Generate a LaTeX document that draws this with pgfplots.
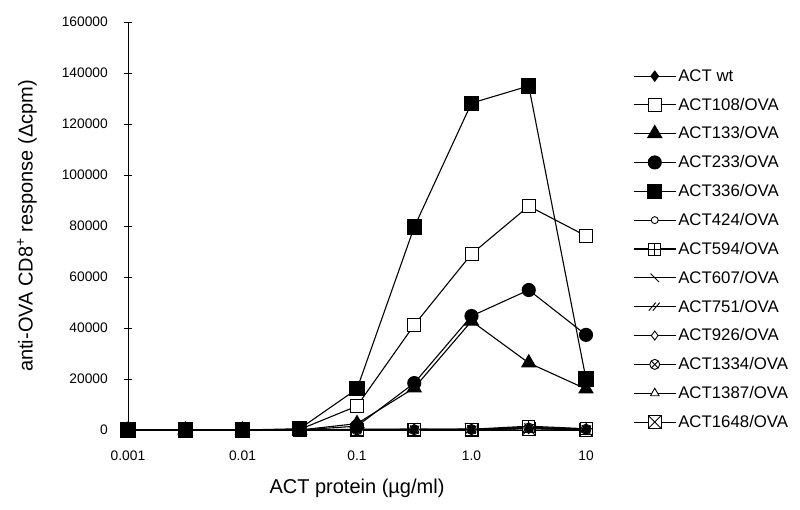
\documentclass[border=0pt]{standalone}
\usepackage{fontspec}
\setmainfont{Liberation Sans}
\usepackage{pgfplots}
\pgfplotsset{compat=1.18}
\usetikzlibrary{plotmarks}

\pgfdeclareplotmark{boxplus}{%
 \pgfpathrectangle{\pgfpoint{-\pgfplotmarksize}{-\pgfplotmarksize}}{\pgfpoint{2\pgfplotmarksize}{2\pgfplotmarksize}}%
 \pgfusepathqfillstroke
 \pgfpathmoveto{\pgfpoint{-\pgfplotmarksize}{0pt}}\pgfpathlineto{\pgfpoint{\pgfplotmarksize}{0pt}}%
 \pgfpathmoveto{\pgfpoint{0pt}{-\pgfplotmarksize}}\pgfpathlineto{\pgfpoint{0pt}{\pgfplotmarksize}}%
 \pgfusepathqstroke}
\pgfdeclareplotmark{boxtimes}{%
 \pgfpathrectangle{\pgfpoint{-\pgfplotmarksize}{-\pgfplotmarksize}}{\pgfpoint{2\pgfplotmarksize}{2\pgfplotmarksize}}%
 \pgfusepathqfillstroke
 \pgfpathmoveto{\pgfpoint{-\pgfplotmarksize}{-\pgfplotmarksize}}\pgfpathlineto{\pgfpoint{\pgfplotmarksize}{\pgfplotmarksize}}%
 \pgfpathmoveto{\pgfpoint{-\pgfplotmarksize}{\pgfplotmarksize}}\pgfpathlineto{\pgfpoint{\pgfplotmarksize}{-\pgfplotmarksize}}%
 \pgfusepathqstroke}
\pgfdeclareplotmark{dslash}{%
 \pgfpathmoveto{\pgfpoint{-1.2\pgfplotmarksize}{-0.8\pgfplotmarksize}}\pgfpathlineto{\pgfpoint{0.2\pgfplotmarksize}{0.8\pgfplotmarksize}}%
 \pgfpathmoveto{\pgfpoint{-0.4\pgfplotmarksize}{-0.8\pgfplotmarksize}}\pgfpathlineto{\pgfpoint{1.0\pgfplotmarksize}{0.8\pgfplotmarksize}}%
 \pgfusepathqstroke}

\pgfplotsset{
 swt/.style={black, line width=1.1bp, mark=diamond*, mark size=5bp, mark options={solid}},
 s108/.style={black, line width=1.1bp, mark=square*, mark size=6.5bp, mark options={fill=white, line width=1bp}},
 s133/.style={black, line width=1.1bp, mark=triangle*, mark size=8bp},
 s233/.style={black, line width=1.1bp, mark=*, mark size=6.5bp},
 s336/.style={black, line width=1.1bp, mark=square*, mark size=7bp},
 s424/.style={black, line width=1.1bp, mark=*, mark size=3.5bp, mark options={fill=white, line width=0.9bp}},
 s594/.style={black, line width=1.1bp, mark=boxplus, mark size=6bp, mark options={fill=white, line width=0.9bp}},
 s607/.style={black, line width=1.1bp, mark=|, mark size=6bp, mark options={rotate=45, line width=0.9bp}},
 s751/.style={black, line width=1.1bp, mark=dslash, mark size=5bp, mark options={line width=0.9bp}},
 s926/.style={black, line width=1.1bp, mark=diamond*, mark size=4.5bp, mark options={fill=white, line width=0.9bp}},
 s1334/.style={black, line width=1.1bp, mark=otimes*, mark size=5bp, mark options={fill=white, line width=0.9bp}},
 s1387/.style={black, line width=1.1bp, mark=triangle*, mark size=5bp, mark options={fill=white, line width=0.9bp}},
 s1648/.style={black, line width=1.1bp, mark=boxtimes, mark size=6.5bp, mark options={fill=white, line width=0.9bp}},
}

\begin{document}
\begin{tikzpicture}
\path[use as bounding box] (0,0) rectangle (800bp,510bp);
\begin{axis}[
  at={(128bp,80bp)}, anchor=south west,
  width=458bp, height=408bp, scale only axis,
  xmin=0, xmax=8, ymin=0, ymax=160000,
  clip=false,
  axis x line*=bottom, axis y line*=left,
  axis line style={black, line width=0.8bp},
  xtick={0,2,4,6,8},
  xticklabels={0.001,0.01,0.1,1.0,10},
  xtick style={draw=none},
  xticklabel style={anchor=base, yshift=-27bp, inner sep=0pt},
  ytick={0,20000,...,160000},
  scaled y ticks=false,
  yticklabels={0,20000,40000,60000,80000,100000,120000,140000,160000},
  yticklabel style={anchor=east, inner sep=0pt, xshift=-16bp},
  ytick style={black, line width=0.8bp},
  tick align=center, major tick length=8bp,
  ticklabel style={font=\fontsize{13.8bp}{16bp}\selectfont},
  xlabel={ACT protein (µg/ml)},
  xlabel style={at={(axis description cs:0.5,-0.142)}, anchor=center, font=\fontsize{20bp}{24bp}\selectfont},
  ylabel={anti-OVA CD8\textsuperscript{+} response (Δcpm)},
  ylabel style={at={(axis description cs:-0.2205,0.5)}, anchor=center, font=\fontsize{20bp}{24bp}\selectfont},
  legend style={draw=none, fill=none, at={(axis description cs:1.1026,0.889)}, anchor=north west,
     font=\fontsize{16.8bp}{19bp}\selectfont, row sep=11.2bp, cells={anchor=west}, inner sep=0pt},
  legend image code/.code={\draw[mark repeat=2,mark phase=2,#1] plot coordinates {(0bp,0bp) (21bp,0bp) (42bp,0bp)};},
]
% background series (near zero), drawn box marks first
\addplot[s1648, forget plot] coordinates {(0,0) (1,0) (2,0) (3,0) (4,0) (5,0) (6,100) (7,500) (8,100)};
\addplot[s594, forget plot] coordinates {(0,0) (1,0) (2,0) (3,0) (4,200) (5,300) (6,300) (7,1500) (8,500)};
\addplot[s1334, forget plot] coordinates {(0,0) (1,0) (2,0) (3,0) (4,0) (5,100) (6,200) (7,800) (8,300)};
\addplot[s1387, forget plot] coordinates {(0,0) (1,0) (2,0) (3,0) (4,100) (5,100) (6,100) (7,600) (8,200)};
\addplot[s926, forget plot] coordinates {(0,0) (1,0) (2,0) (3,0) (4,100) (5,200) (6,200) (7,1000) (8,400)};
\addplot[s424, forget plot] coordinates {(0,0) (1,0) (2,0) (3,0) (4,0) (5,200) (6,300) (7,800) (8,300)};
\addplot[s607, forget plot] coordinates {(0,0) (1,0) (2,0) (3,0) (4,0) (5,100) (6,200) (7,900) (8,200)};
\addplot[s751, forget plot] coordinates {(0,0) (1,0) (2,0) (3,0) (4,0) (5,100) (6,100) (7,700) (8,200)};
\addplot[swt, forget plot] coordinates {(0,0) (1,0) (2,0) (3,0) (4,300) (5,300) (6,200) (7,600) (8,300)};
% responding series
\addplot[s108, forget plot] coordinates {(0,0) (1,0) (2,0) (3,200) (4,9400) (5,41200) (6,69000) (7,87800) (8,76100)};
\addplot[s133, forget plot] coordinates {(0,0) (1,0) (2,0) (3,0) (4,2500) (5,16500) (6,42700) (7,26300) (8,16100)};
\addplot[s233, forget plot] coordinates {(0,0) (1,0) (2,0) (3,0) (4,1500) (5,18400) (6,44700) (7,54900) (8,37300)};
\addplot[s336, forget plot] coordinates {(0,0) (1,0) (2,0) (3,500) (4,16100) (5,79600) (6,128200) (7,134900) (8,20000)};
% legend
\addlegendimage{swt}\addlegendentry{ACT wt}
\addlegendimage{s108}\addlegendentry{ACT108/OVA}
\addlegendimage{s133}\addlegendentry{ACT133/OVA}
\addlegendimage{s233}\addlegendentry{ACT233/OVA}
\addlegendimage{s336}\addlegendentry{ACT336/OVA}
\addlegendimage{s424}\addlegendentry{ACT424/OVA}
\addlegendimage{s594}\addlegendentry{ACT594/OVA}
\addlegendimage{s607}\addlegendentry{ACT607/OVA}
\addlegendimage{s751}\addlegendentry{ACT751/OVA}
\addlegendimage{s926}\addlegendentry{ACT926/OVA}
\addlegendimage{s1334}\addlegendentry{ACT1334/OVA}
\addlegendimage{s1387}\addlegendentry{ACT1387/OVA}
\addlegendimage{s1648}\addlegendentry{ACT1648/OVA}
\end{axis}
\end{tikzpicture}
\end{document}
